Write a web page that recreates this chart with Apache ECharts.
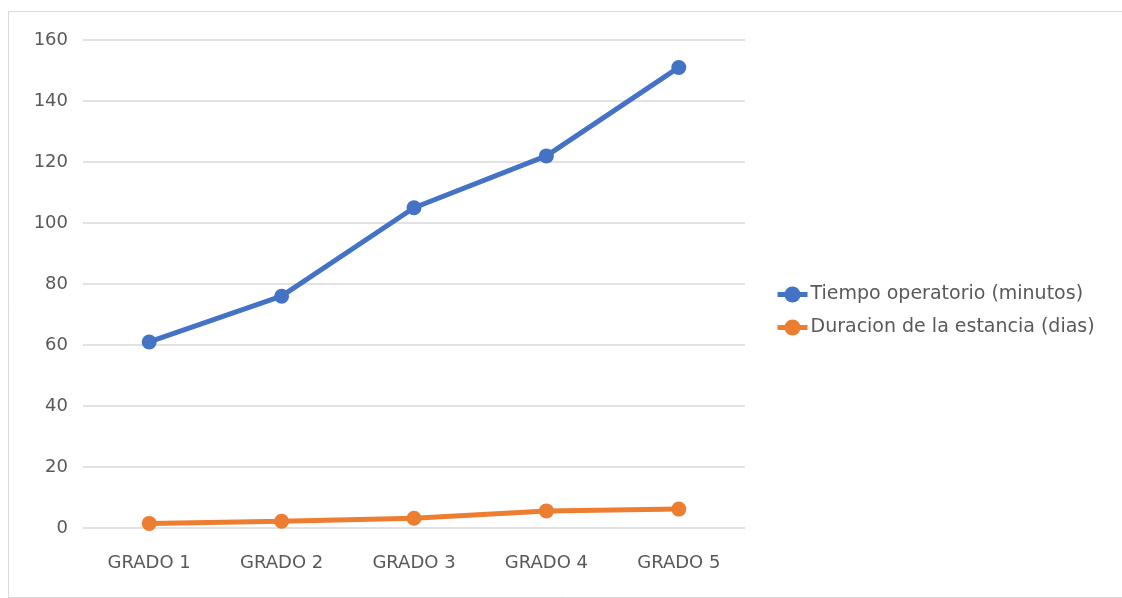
<!DOCTYPE html>
<html>
<head>
<meta charset="utf-8">
<script src="https://cdn.jsdelivr.net/npm/echarts@6/dist/echarts.min.js"></script>
<style>
  html, body { margin: 0; padding: 0; background: #ffffff; }
  #chart { width: 1122px; height: 598px; }
</style>
</head>
<body>
<div id="chart"></div>
<script>
// Categories and series values
const categories = ['GRADO 1', 'GRADO 2', 'GRADO 3', 'GRADO 4', 'GRADO 5'];
const tiempoOperatorio = [61, 76, 105, 122, 151];
const duracionEstancia = [1.5, 2.2, 3.2, 5.6, 6.2];
const seriesNames = ['Tiempo operatorio (minutos)', 'Duracion de la estancia (dias)'];

const textColor = '#595959';
const fontFamily = '"DejaVu Sans", "Noto Sans", sans-serif';

const chart = echarts.init(document.getElementById('chart'));
chart.setOption({
  backgroundColor: '#ffffff',
  animation: false,
  graphic: [{
    type: 'rect',
    left: 6, top: 9,
    shape: { width: 1114, height: 586 },
    style: { fill: 'none', stroke: '#d9d9d9', lineWidth: 1 },
    silent: true
  }],
  grid: { left: 83, right: 377, top: 40, height: 488, containLabel: false },
  legend: {
    orient: 'vertical',
    left: 770, top: 280,
    itemWidth: 30, itemHeight: 20, itemGap: 14,
    lineStyle: { width: 5 },
    textStyle: { color: textColor, fontSize: 19, fontFamily: fontFamily, padding: [0, 0, 0, -2] },
    data: seriesNames
  },
  xAxis: {
    type: 'category',
    data: categories,
    boundaryGap: true,
    axisLine: { show: false },
    axisTick: { show: false },
    axisLabel: { color: textColor, fontSize: 18, fontFamily: fontFamily, margin: 26 }
  },
  yAxis: {
    type: 'value',
    min: 0, max: 160, interval: 20,
    axisLine: { show: false },
    axisTick: { show: false },
    axisLabel: { color: textColor, fontSize: 18, fontFamily: fontFamily, margin: 15 },
    splitLine: { lineStyle: { color: '#d9d9d9', width: 1.5 } }
  },
  series: [
    {
      name: seriesNames[0],
      type: 'line',
      data: tiempoOperatorio,
      symbol: 'circle', symbolSize: 15,
      lineStyle: { color: '#4472C4', width: 5 },
      itemStyle: { color: '#4472C4' }
    },
    {
      name: seriesNames[1],
      type: 'line',
      data: duracionEstancia,
      symbol: 'circle', symbolSize: 15,
      lineStyle: { color: '#ED7D31', width: 5 },
      itemStyle: { color: '#ED7D31' }
    }
  ]
});
</script>
</body>
</html>
